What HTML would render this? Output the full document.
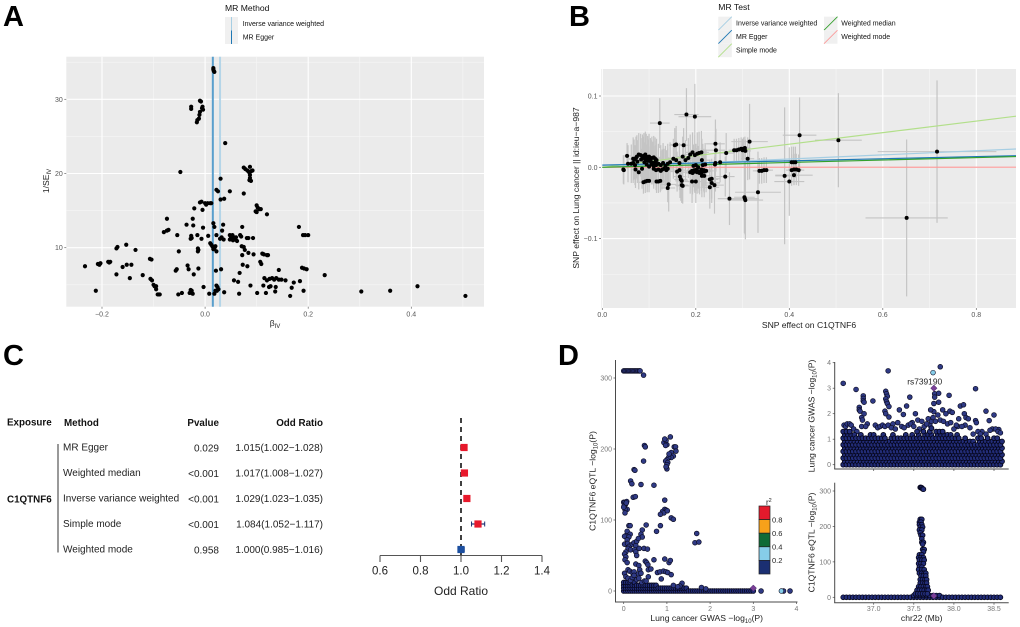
<!DOCTYPE html>
<html lang="en">
<head>
<meta charset="utf-8">
<title>C1QTNF6 Mendelian randomization figure</title>
<style>
html,body{margin:0;padding:0;background:#fff;width:1020px;height:627px;overflow:hidden}
svg{display:block;font-family:"Liberation Sans",sans-serif;filter:blur(0.3px)}
.panel-letter{font-size:29px;font-weight:700;fill:#000}
.legend-title{font-size:8.6px;fill:#111}
.legend-text{font-size:7px;fill:#111}
.axis-title{font-size:8.6px;fill:#222}
.table-text{font-size:10px;fill:#222}
.table-head{font-size:9.8px;font-weight:700;fill:#111}
</style>
</head>
<body>
<svg id="fig" width="1020" height="627" viewBox="0 0 1020 627" xmlns="http://www.w3.org/2000/svg">
  <defs>
    <clipPath id="clip-b"><rect x="601" y="69" width="415" height="239"/></clipPath>
  </defs>
  <rect width="1020" height="627" fill="#fff"/>

  <text class="panel-letter" x="3" y="26">A</text>
  <text class="panel-letter" x="569" y="26">B</text>
  <text class="panel-letter" x="3" y="365">C</text>
  <text class="panel-letter" x="558" y="365">D</text>

  <!-- Panel A -->
  <g>
    <text class="legend-title" x="225" y="11">MR Method</text>
    <rect x="225" y="17" width="13" height="13.5" fill="#f0f0f0"/>
    <rect x="225" y="30.5" width="13" height="13.5" fill="#f0f0f0"/>
    <line x1="231.5" x2="231.5" y1="17" y2="30.5" stroke="#a6cee3" stroke-width="1"/>
    <line x1="231.5" x2="231.5" y1="30.5" y2="44" stroke="#1f78b4" stroke-width="1"/>
    <text class="legend-text" x="242.7" y="26">Inverse variance weighted</text>
    <text class="legend-text" x="242.7" y="39.5">MR Egger</text>
  </g>
  <rect x="66.3" y="56.7" width="417.7" height="250" fill="#ebebeb"/>
  <g id="a-grid"></g>
  <g id="a-lines"></g>
  <g id="a-points"></g>
  <g id="a-axes"></g>
  <text class="axis-title" x="275" y="326" text-anchor="middle">β<tspan font-size="6" dy="2">IV</tspan></text>
  <text class="axis-title" transform="translate(49,181) rotate(-90)" text-anchor="middle">1/SE<tspan font-size="6" dy="2">IV</tspan></text>

  <!-- Panel B -->
  <g>
    <text class="legend-title" x="718.3" y="10">MR Test</text>
    <g id="b-legend"></g>
    <text class="legend-text" x="736" y="25.5">Inverse variance weighted</text>
    <text class="legend-text" x="736" y="39">MR Egger</text>
    <text class="legend-text" x="736" y="52.5">Simple mode</text>
    <text class="legend-text" x="841.3" y="25.5">Weighted median</text>
    <text class="legend-text" x="841.3" y="39">Weighted mode</text>
  </g>
  <rect x="601" y="69" width="415" height="239" fill="#ebebeb"/>
  <g id="b-grid"></g>
  <g id="b-errors"></g>
  <g id="b-lines" clip-path="url(#clip-b)"></g>
  <g id="b-points"></g>
  <g id="b-axes"></g>
  <text class="axis-title" x="809" y="328" text-anchor="middle">SNP effect on C1QTNF6</text>
  <text class="axis-title" transform="translate(579,188) rotate(-90)" text-anchor="middle">SNP effect on Lung cancer || id:ieu−a−987</text>

  <!-- Panel C table -->
  <g>
    <text class="table-head" x="7" y="425.5">Exposure</text>
    <text class="table-head" x="64" y="426">Method</text>
    <text class="table-head" x="219" y="426" text-anchor="end">Pvalue</text>
    <text class="table-head" x="323" y="426" text-anchor="end">Odd Ratio</text>
    <line x1="58" x2="58" y1="444" y2="552.5" stroke="#333" stroke-width="1"/>
    <text class="table-head" x="7" y="502.5">C1QTNF6</text>
    <text class="table-text" x="63" y="450.5">MR Egger</text>
    <text class="table-text" x="219" y="451.5" text-anchor="end">0.029</text>
    <text class="table-text" x="323" y="451" text-anchor="end">1.015(1.002−1.028)</text>
    <text class="table-text" x="63" y="476">Weighted median</text>
    <text class="table-text" x="219" y="477" text-anchor="end">&lt;0.001</text>
    <text class="table-text" x="323" y="476.5" text-anchor="end">1.017(1.008−1.027)</text>
    <text class="table-text" x="63" y="501.5">Inverse variance weighted</text>
    <text class="table-text" x="219" y="502.5" text-anchor="end">&lt;0.001</text>
    <text class="table-text" x="323" y="502" text-anchor="end">1.029(1.023−1.035)</text>
    <text class="table-text" x="63" y="527">Simple mode</text>
    <text class="table-text" x="219" y="528" text-anchor="end">&lt;0.001</text>
    <text class="table-text" x="323" y="527.5" text-anchor="end">1.084(1.052−1.117)</text>
    <text class="table-text" x="63" y="552.5">Weighted mode</text>
    <text class="table-text" x="219" y="553.5" text-anchor="end">0.958</text>
    <text class="table-text" x="323" y="553" text-anchor="end">1.000(0.985−1.016)</text>
  </g>
  <g id="c-forest"></g>
  <text x="461" y="595" text-anchor="middle" font-size="12" fill="#222">Odd Ratio</text>

  <!-- Panel D -->
  <g id="d-left"></g>
  <g id="d-top"></g>
  <g id="d-bottom"></g>
  <g id="d-axes"></g>
  <text x="924.7" y="384.5" text-anchor="middle" font-size="8.4" fill="#222">rs739190</text>
  <text class="axis-title" x="706.7" y="621" text-anchor="middle">Lung cancer GWAS −log<tspan font-size="6" dy="2">10</tspan><tspan dy="-2">(P)</tspan></text>
  <text class="axis-title" transform="translate(595.5,481) rotate(-90)" text-anchor="middle">C1QTNF6 eQTL −log<tspan font-size="6" dy="2">10</tspan><tspan dy="-2">(P)</tspan></text>
  <text class="axis-title" transform="translate(814.5,416) rotate(-90)" text-anchor="middle">Lung cancer GWAS −log<tspan font-size="6" dy="2">10</tspan><tspan dy="-2">(P)</tspan></text>
  <text class="axis-title" transform="translate(814.5,542.5) rotate(-90)" text-anchor="middle">C1QTNF6 eQTL −log<tspan font-size="6" dy="2">10</tspan><tspan dy="-2">(P)</tspan></text>
  <text class="axis-title" x="921.7" y="621" text-anchor="middle">chr22 (Mb)</text>
  <g id="d-legend"></g>
  <text x="766" y="505" font-size="8" fill="#222">r<tspan font-size="5.5" dy="-3">2</tspan></text>
</svg>

<script>
/* ---------- Panel A data ---------- */
const funnelXTicks = [-0.2, 0, 0.2, 0.4];
const funnelXTickLabels = ['−0.2', '0.0', '0.2', '0.4'];
const funnelXMinor = [-0.1, 0.1, 0.3, 0.5];
const funnelYTicks = [10, 20, 30];
const funnelYMinor = [5, 15, 25, 35];
const funnelEstimates = [0.015, 0.029];
const funnelPoints = [
[0.016,34.2],[0.016,34.0],[0.017,33.8],[0.018,33.7],
[-0.027,29.0],[-0.027,28.7],[-0.010,29.8],[-0.008,29.7],[-0.005,29.0],[-0.004,28.6],[-0.006,28.8],[-0.010,28.3],[-0.011,27.9],[-0.012,27.4],[-0.015,27.2],[-0.016,26.9],
[0.039,24.1],[-0.048,20.2],
[0.075,20.8],[0.078,20.6],[0.082,20.4],[0.085,20.2],[0.087,20.9],[0.089,20.3],[0.092,20.4],[0.087,19.8],[0.087,19.4],[0.086,19.1],[0.089,19.0],
[0.030,19.3],[0.022,17.8],[0.025,17.6],[0.048,17.6],[0.075,17.3],
[0.037,16.6],[0.030,16.5],[-0.010,16.1],[-0.007,16.2],[0.000,16.0],[0.002,15.8],[0.005,16.0],[0.010,16.0],[0.012,16.0],[-0.021,15.3],[-0.005,15.1],
[0.100,15.7],[0.102,15.4],[0.105,15.2],[0.108,15.2],[0.098,14.9],[0.100,14.8],[0.120,14.5],
[-0.074,13.9],[-0.024,13.9],[0.016,13.3],[0.035,13.1],[-0.036,13.1],[-0.023,13.0],[0.018,12.8],[0.072,12.8],[-0.004,12.7],[0.182,12.8],[0.033,12.3],
[-0.071,12.4],[-0.074,12.3],[-0.080,12.1],[-0.054,11.7],[-0.015,11.7],[-0.027,11.6],[-0.026,11.3],[-0.028,11.2],[-0.007,11.2],[0.006,11.6],[0.022,11.7],[0.029,11.2],[0.032,11.4],[0.036,11.1],
[0.048,11.7],[0.050,11.5],[0.052,11.3],[0.048,11.1],[0.053,11.7],[0.056,11.4],[0.058,11.1],[0.060,11.4],[0.062,10.9],[0.054,11.0],[0.068,11.7],[0.070,11.5],
[0.081,11.3],[0.084,11.3],[0.093,11.3],[0.190,11.7],[0.194,11.7],[0.200,11.7],
[0.010,10.6],[0.012,10.4],[0.014,10.2],[0.016,10.0],[0.016,9.8],[0.020,10.2],[0.018,9.9],[0.022,9.5],[-0.014,9.9],[-0.013,9.7],[-0.014,9.5],[-0.051,9.5],
[0.071,10.2],[0.075,10.1],[0.077,9.7],[0.084,9.3],[0.072,9.0],[0.094,9.1],[0.111,9.2],[0.114,9.1],[0.120,9.0],[0.122,9.0],
[-0.172,9.9],[-0.170,10.1],[-0.153,10.4],[-0.135,9.7],[-0.107,8.5],[-0.104,8.4],
[-0.233,7.5],[-0.208,7.8],[-0.205,7.7],[-0.203,7.9],[-0.188,8.1],[-0.186,8.0],[-0.184,8.1],[-0.160,7.4],[-0.152,7.7],[-0.143,7.7],
[-0.172,6.4],[-0.146,5.9],[-0.121,6.3],[-0.106,5.8],[-0.103,5.6],[-0.100,5.0],[-0.098,4.8],[-0.095,4.4],[-0.095,4.8],[-0.212,4.2],[-0.092,3.7],[-0.090,3.7],[-0.088,3.7],
[-0.057,6.9],[-0.055,7.1],[-0.034,7.6],[-0.032,7.1],[-0.013,7.2],[-0.022,6.4],[0.021,6.9],[0.031,7.1],[0.073,7.7],[0.082,7.5],[0.067,6.6],
[0.107,8.1],[0.109,7.8],[0.143,7.0],[0.188,7.3],[0.192,7.2],[0.197,7.1],[0.232,6.3],
[0.115,5.9],[0.120,5.6],[0.125,5.8],[0.130,5.9],[0.134,5.7],[0.138,5.9],[0.143,5.7],[0.148,5.7],[0.156,5.6],[0.172,5.3],[0.184,5.5],[0.056,5.6],[0.064,5.4],
[0.088,4.9],[0.113,4.9],[0.124,4.7],[0.127,4.8],[0.137,4.7],[0.168,4.6],[-0.003,4.7],[0.022,4.9],[0.024,4.7],[0.026,4.4],[0.023,4.2],[0.020,4.2],
[-0.028,4.3],[-0.026,4.2],[-0.030,3.9],[-0.024,3.8],[-0.045,3.9],[-0.052,3.7],[0.008,3.8],[0.018,3.8],[0.037,4.0],[0.066,3.8],[0.101,3.9],[0.118,3.9],[0.136,4.1],[0.165,3.5],[0.191,4.2],
[0.303,4.1],[0.359,4.2],[0.412,4.8],[0.505,3.5]
];

/* ---------- Panel B data ---------- */
const scatterXTicks = [0, 0.2, 0.4, 0.6, 0.8];
const scatterXTickLabels = ['0.0', '0.2', '0.4', '0.6', '0.8'];
const scatterXMinor = [0.1, 0.3, 0.5, 0.7];
const scatterYTicks = [0.1, 0, -0.1];
const scatterYTickLabels = ['0.1', '0.0', '−0.1'];
const scatterYMinor = [0.05, -0.05, -0.15];
const methodIntercepts = [0, 0.003, 0, 0, 0];
const methodSlopes = [0.029, 0.015, 0.081, 0.017, 0.0002];
/* SNP rows: exposure effect, outcome effect, exposure half-width, outcome half-width */
const snpEffects = [
[0.045,-0.003,0.004,0.02],[0.046,-0.004,0.004,0.02],[0.053,0.016,0.008,0.018],[0.055,0.005,0.008,0.026],[0.062,0.005,0.01,0.027],[0.066,0.006,0.01,0.028],[0.070,0.003,0.01,0.028],
[0.068,0.011,0.01,0.028],[0.072,0.013,0.01,0.03],[0.078,0.018,0.012,0.03],[0.075,0.008,0.012,0.03],[0.071,-0.003,0.01,0.026],[0.078,-0.007,0.01,0.024],[0.085,-0.002,0.012,0.028],
[0.083,0.011,0.012,0.03],[0.086,0.014,0.012,0.032],[0.089,0.016,0.012,0.032],[0.092,0.018,0.012,0.032],[0.094,0.015,0.012,0.032],[0.097,0.012,0.012,0.032],[0.100,0.015,0.012,0.032],
[0.103,0.011,0.012,0.03],[0.106,0.013,0.012,0.03],[0.110,0.014,0.014,0.03],[0.113,0.012,0.014,0.03],[0.116,0.010,0.014,0.03],[0.090,0.007,0.012,0.028],[0.095,0.004,0.012,0.028],
[0.100,0.001,0.012,0.028],[0.105,0.004,0.012,0.028],[0.110,0.002,0.012,0.028],[0.115,0.003,0.014,0.028],[0.120,0.005,0.014,0.028],[0.125,0.003,0.014,0.028],[0.130,0.006,0.014,0.028],
[0.135,0.002,0.014,0.028],[0.140,0.005,0.014,0.028],[0.145,0.007,0.014,0.028],[0.132,-0.002,0.014,0.028],[0.137,-0.004,0.014,0.028],
[0.088,-0.021,0.01,0.016],[0.092,-0.020,0.01,0.016],[0.096,-0.019,0.01,0.016],[0.100,-0.019,0.01,0.016],[0.116,-0.020,0.014,0.016],[0.120,-0.020,0.014,0.016],[0.124,-0.019,0.014,0.016],
[0.123,0.062,0.021,0.035],[0.140,-0.029,0.016,0.02],[0.142,-0.024,0.016,0.038],[0.155,0.031,0.012,0.024],[0.158,0.032,0.012,0.026],[0.174,0.031,0.012,0.024],[0.180,0.074,0.026,0.037],[0.198,0.071,0.035,0.046],
[0.152,0.012,0.012,0.028],[0.158,0.010,0.014,0.028],[0.165,0.006,0.014,0.028],[0.172,0.015,0.014,0.028],[0.178,0.010,0.014,0.028],[0.184,0.013,0.014,0.028],[0.188,0.018,0.014,0.028],[0.193,0.021,0.014,0.028],[0.198,0.017,0.014,0.028],
[0.203,0.019,0.016,0.03],[0.207,0.020,0.016,0.03],[0.212,0.021,0.016,0.03],[0.213,0.010,0.016,0.03],[0.160,-0.006,0.014,0.028],[0.165,-0.004,0.014,0.028],
[0.166,-0.013,0.014,0.03],[0.168,-0.017,0.014,0.03],[0.170,-0.019,0.014,0.03],[0.170,-0.025,0.014,0.025],[0.172,-0.026,0.014,0.025],
[0.192,-0.020,0.016,0.03],[0.200,-0.020,0.016,0.03],[0.192,-0.005,0.016,0.03],[0.197,-0.004,0.016,0.03],[0.202,-0.003,0.016,0.03],[0.207,-0.006,0.016,0.03],[0.212,-0.003,0.016,0.03],[0.217,-0.004,0.016,0.03],
[0.195,0.002,0.016,0.03],[0.200,0.003,0.016,0.03],[0.205,0.000,0.016,0.03],[0.215,0.003,0.016,0.03],[0.220,0.004,0.016,0.03],
[0.188,-0.007,0.016,0.03],[0.193,-0.008,0.016,0.03],[0.198,-0.006,0.016,0.03],[0.203,-0.007,0.016,0.03],[0.208,-0.008,0.016,0.03],[0.213,-0.007,0.016,0.03],[0.218,-0.006,0.016,0.03],[0.222,-0.005,0.016,0.03],
[0.066,0.012,0.01,0.03],[0.074,0.015,0.01,0.03],[0.082,0.017,0.012,0.03],[0.088,0.013,0.012,0.03],[0.093,0.010,0.012,0.03],[0.098,0.009,0.012,0.03],[0.104,0.008,0.012,0.03],[0.108,0.006,0.012,0.03],[0.113,0.007,0.014,0.03],
[0.110,-0.002,0.014,0.028],[0.115,-0.004,0.014,0.028],[0.120,-0.003,0.014,0.028],[0.125,-0.005,0.014,0.028],[0.128,-0.003,0.014,0.028],[0.140,-0.002,0.014,0.028],
[0.213,-0.012,0.016,0.03],[0.218,-0.012,0.016,0.03],[0.230,-0.017,0.018,0.028],[0.234,-0.016,0.018,0.028],[0.234,-0.022,0.018,0.028],[0.230,-0.028,0.02,0.03],[0.240,-0.025,0.02,0.04],
[0.241,0.004,0.018,0.03],[0.242,0.006,0.018,0.04],[0.242,0.033,0.02,0.034],[0.243,0.024,0.02,0.03],[0.252,0.007,0.02,0.028],[0.265,0.020,0.018,0.028],[0.263,-0.013,0.02,0.028],
[0.272,-0.044,0.025,0.037],[0.282,0.024,0.012,0.016],[0.287,0.024,0.012,0.016],[0.292,0.025,0.012,0.016],[0.297,0.026,0.012,0.016],[0.302,0.026,0.012,0.016],[0.305,0.027,0.012,0.016],[0.300,0.024,0.012,0.016],[0.306,0.023,0.012,0.016],
[0.304,-0.042,0.022,0.05],[0.305,-0.044,0.03,0.05],[0.306,-0.046,0.038,0.055],[0.311,0.012,0.014,0.03],[0.315,0.036,0.039,0.053],[0.333,-0.035,0.049,0.057],
[0.336,-0.005,0.014,0.018],[0.341,-0.005,0.014,0.018],[0.346,-0.004,0.014,0.018],[0.351,-0.004,0.014,0.018],
[0.390,-0.012,0.02,0.096],[0.400,-0.020,0.032,0.048],[0.405,0.007,0.012,0.022],[0.409,0.007,0.012,0.022],[0.413,0.007,0.012,0.022],[0.405,-0.004,0.012,0.022],[0.410,-0.003,0.012,0.022],[0.415,-0.003,0.012,0.022],[0.410,-0.011,0.04,0.014],[0.420,-0.004,0.012,0.022],[0.422,0.045,0.036,0.053],
[0.505,0.038,0.05,0.066],[0.716,0.022,0.127,0.1],[0.651,-0.071,0.088,0.11]
];

/* ---------- Panel C data ---------- */
const forestTicks = [0.6, 0.8, 1.0, 1.2, 1.4];
const forestTickLabels = ['0.6', '0.8', '1.0', '1.2', '1.4'];
const forestOdds = [1.015, 1.017, 1.029, 1.084, 1.000];
const forestLower = [1.002, 1.008, 1.023, 1.052, 0.985];
const forestUpper = [1.028, 1.027, 1.035, 1.117, 1.016];

/* ---------- Panel D data ---------- */
const colocXTicks = [0, 1, 2, 3, 4];
const colocYTicks = [0, 100, 200, 300];
const colocPoints = [
[0,310],[0.03,310],[0.06,310],[0.09,310],[0.12,310],[0.15,310],[0.18,310],[0.21,310],[0.24,310],[0.27,310],[0.3,310],[0.33,310],[0.36,310],[0.38,310],[0.46,304],
[0.48,205],[0.5,203],[0.46,183],[0.24,171],[0.26,170],[0.16,155],[0.19,151],[0.4,150],[0.7,149],[0.22,132],[0.27,133],
[0.95,128],[0,125],[0.03,125],[0.07,126],[0.04,122],[0.01,120],[0.08,115],[0.03,115],[0.03,110],[0.06,124],[0.0,118],
[0.95,115],[0.98,114],[0.9,112],[0.93,110],[0.85,108],[1.01,113],[1.1,103],[1.15,101],[0.85,92],[0.12,92],[0.15,92],[0.52,93],[0.76,84],[0.43,86],
[0.93,209],[0.98,212],[0.95,214],[1.0,206],[0.97,205],[1.08,217],[1.17,203],[1.2,203],[1.21,197],[1.1,195],[1.15,190],[1.1,188],[1.04,188],[1.0,185],[0.97,183],[1.02,181],[1.0,178],[1.0,172],[0.98,175],[1.05,193],
[1.69,81],[1.65,68],[1.74,69],
[0.05,78],[0.02,77],[0.08,84],[0.15,80],[0.12,76],[0.4,80],[0.43,76],[0.47,60],[0.55,59],[0.08,72],[0.04,66],[0.02,66],[0.09,67],[0.13,63],[0.1,60],[0.16,58],[0.2,66],[0.24,68],[0.28,64],[0.3,70],[0.34,74],[0.25,58],[0.28,55],[0.3,50],[0.36,60],
[0.05,55],[0.02,52],[0.05,48],[0.03,44],[0.08,40],[0.1,30],[0.14,28],[0.2,26],[0.24,27],[0.28,38],[0.35,36],[0.37,30],[0.34,24],[0.4,25],[0.5,42],[0.53,40],[0.56,37],[0.57,30],[0.63,31],[0.7,44],[0.95,45],[1.05,40],[1.08,43],[0.78,26],[0.84,27],[0.92,28],[0.98,27],[1.02,26],[1.1,23],[0.87,17],
[0.02,25],[0.05,20],[0.1,18],[0.16,15],[0.2,19],[0.24,22],[0.3,16],[0.35,18],[0.42,12],[0.48,14],[0.57,20],[0.52,14],[1.35,11],[1.15,8],[1.3,7],[1.8,5],[1.9,3],[1.25,6]
];
/* Height of the packed low-significance band, per 0.05 step of GWAS value */
const colocBandTops = [14,12,12,13,11,12,10,11,10,10,9,10,8,8,8,8,7,7,6,6,6,5,5,5,5,5,4,4,4,4,3,3,3,3,2,2,2,2,2,2,2,2,1,1,1,1,1,1,1,1,1,1,1,1,1,1,1,0,0,0,0];
const colocOutliers = [[3.18,0],[3.7,0],[3.85,0]];
const colocLightPoint = [3.65,0];
const colocLead = [3.0,4];

const gwasXTicks = [37, 37.5, 38, 38.5];
const gwasYTicks = [0, 1, 2, 3, 4];
/* Top of the dense GWAS band, per 0.04 Mb starting at 36.62 Mb */
const gwasBandTops = [1.4,1.35,1.3,1.2,1.1,1.25,1.05,1.1,1.2,1.25,1.05,1.15,1.25,1.1,1.0,1.2,1.1,1.15,1.05,1.25,1.15,1.2,1.1,1.3,1.15,1.35,1.25,1.45,1.1,1.3,1.35,1.4,1.25,1.2,1.1,1.2,1.1,0.95,1.05,0.95,1.0,0.9,1.05,1.1,0.95,1.05,0.95,1.1,1.05,1.0];
const gwasPoints = [
[37.18,3.68],[37.83,3.84],[36.62,3.19],[36.78,2.95],[38.27,2.98],
[36.87,2.7],[36.87,2.6],[36.87,2.5],[36.88,2.45],[36.99,2.5],[37.15,2.88],[37.16,2.78],[37.17,2.68],[37.15,2.58],[37.16,2.48],[37.17,2.4],[37.19,2.28],[37.14,2.1],[37.15,2.0],[37.19,1.87],
[36.82,2.25],[36.82,2.15],[36.83,2.1],[36.85,1.85],[36.88,2.0],[36.86,1.75],[36.92,1.6],
[37.45,2.65],[37.76,2.78],[37.76,2.65],[37.81,2.8],[37.94,2.72],[37.75,2.4],[37.81,2.45],[37.75,2.08],[37.71,2.15],[37.8,1.95],[37.86,2.15],[37.9,2.0],[37.95,2.1],[37.98,2.05],
[37.32,2.15],[37.41,2.3],[37.37,1.97],[37.52,2.0],[37.24,1.6],[37.3,1.65],[37.48,1.65],[37.55,1.75],[37.6,1.7],[37.68,1.8],[37.7,1.55],
[38.06,1.8],[38.08,2.3],[38.12,2.35],[38.13,2.0],[38.15,1.85],[38.18,1.8],[38.14,1.55],[38.4,2.1],[38.5,1.95],[38.44,1.73],[38.27,1.73],[38.28,1.65],[38.05,1.5],[38.35,1.3],[38.48,1.4],[38.56,1.38],
[36.63,1.55],[36.65,1.5],[36.67,1.6],[36.7,1.6],[36.72,1.55],[36.75,1.4],[36.79,1.3],[36.85,1.5],[36.9,1.5],[37.02,1.55],[37.05,1.45],[37.08,1.5],[37.11,1.55],[37.14,1.5],[37.18,1.55],[37.22,1.45],[37.27,1.4],
[37.35,1.5],[37.38,1.45],[37.43,1.55],[37.46,1.6],[37.5,1.5],[37.57,1.4],[37.63,1.5],[37.66,1.6],[37.72,1.7],[37.74,1.85],[37.77,1.7],[37.83,1.75],[37.87,1.7],[37.92,1.6],[37.96,1.65],
[38.0,1.4],[38.03,1.55],[38.1,1.5],[38.2,1.45],[38.24,1.2],[38.3,1.3],[38.33,1.2],[38.4,1.2],[38.45,1.35],[38.52,1.4],[38.55,1.3],[38.58,1.25]
];
const gwasLight = [37.74,3.61];
const gwasLead = [37.75,3.0];

const eqtlYTicks = [0, 100, 200, 300];
const eqtlXLabels = ['37.0', '37.5', '38.0', '38.5'];
/* Top of the flat eQTL band, per 0.04 Mb starting at 36.62 Mb */
const eqtlBandTops = [3,3,3,3,3,3,3,3,3,3,3,3,3,3,3,3,4,4,4,4,4,4,5,6,7,9,10,8,6,5,5,4,4,4,4,4,3,3,3,3,3,3,3,3,3,3,3,3,3,3];
const eqtlPoints = [
[37.58,310],[37.59,310],[37.6,309],[37.61,306],[37.62,305],
[37.58,220],[37.6,220],[37.57,212],[37.59,212],[37.57,205],[37.6,205],[37.58,198],[37.61,198],[37.57,190],[37.6,190],[37.58,182],[37.59,175],[37.61,175],[37.6,165],[37.6,155],[37.62,155],[37.61,150],[37.61,135],[37.63,135],[37.62,128],
[37.57,120],[37.6,120],[37.56,112],[37.59,112],[37.62,112],[37.57,105],[37.6,105],[37.63,105],[37.56,95],[37.59,95],[37.62,95],[37.57,85],[37.6,85],[37.56,78],[37.6,78],[37.63,78],
[37.57,68],[37.6,68],[37.63,68],[37.65,68],[37.59,60],[37.62,60],[37.65,60],[37.58,50],[37.61,50],[37.64,50],[37.66,50],[37.58,40],[37.61,40],[37.64,40],[37.66,40],
[37.56,30],[37.59,30],[37.62,30],[37.65,30],[37.67,30],[37.54,20],[37.57,20],[37.6,20],[37.63,20],[37.66,20],[37.68,20],[37.52,10],[37.55,10],[37.58,10],[37.61,10],[37.64,10],[37.67,10]
];
const eqtlLead = [37.75,4];

const r2Levels = ['#e41a2c', '#f7a11a', '#0f6b37', '#86cde9', '#1b2f72'];
const r2TickLabels = ['0.8', '0.6', '0.4', '0.2'];

/* ---------- Helpers ---------- */
const NS = 'http://www.w3.org/2000/svg';
const linear = (d0, d1, r0, r1) => v => r0 + (v - d0) * (r1 - r0) / (d1 - d0);
function make(parentId, tag, attrs, text) {
  const el = document.createElementNS(NS, tag);
  for (const k in attrs) el.setAttribute(k, attrs[k]);
  if (text !== undefined) el.textContent = text;
  document.getElementById(parentId).appendChild(el);
  return el;
}
function line(parent, name, x1, y1, x2, y2, stroke, width, extra) {
  const el = make(parent, 'line', Object.assign({x1, y1, x2, y2, stroke, 'stroke-width': width}, extra || {}));
  
  
  return el;
}
function label(parent, name, x, y, str, anchor, size, fill) {
  const el = make(parent, 'text', {x, y, 'text-anchor': anchor, 'font-size': size, fill}, str);
  
  
  return el;
}
function dot(parent, name, cx, cy, r, fill, stroke, sw) {
  const el = make(parent, 'circle', {cx, cy, r, fill, stroke: stroke || 'none', 'stroke-width': sw || 0});
  
  
  return el;
}
function diamond(parent, name, cx, cy, s) {
  const el = make(parent, 'polygon', {points: `${cx},${cy - s} ${cx + s},${cy} ${cx},${cy + s} ${cx - s},${cy}`, fill: '#7b3f98', stroke: '#3a2260', 'stroke-width': 0.5});
  
  
  return el;
}
const TICK = '#666666';
const DOT_FILL = '#2f3a85';
const DOT_EDGE = '#0c0c22';
const BAND_FILL = '#222d78';
const BAND_EDGE = '#05051a';

/* ---------- Panel A ---------- */
const ax = linear(0, 0.4, 205.1, 411.3);
const ay = linear(10, 30, 247.7, 99.3);
const aLeft = 66.3, aRight = 484, aTop = 56.7, aBottom = 306.7;
funnelXMinor.forEach(v => line('a-grid', 'funnel-minor-gridline-x', ax(v), aTop, ax(v), aBottom, '#f7f7f7', 0.6));
funnelYMinor.forEach(v => line('a-grid', 'funnel-minor-gridline-y', aLeft, ay(v), aRight, ay(v), '#f7f7f7', 0.6));
funnelXTicks.forEach((v, i) => {
  line('a-grid', 'funnel-gridline-x', ax(v), aTop, ax(v), aBottom, '#fff', 1.1);
  line('a-axes', 'funnel-x-tick', ax(v), aBottom, ax(v), aBottom + 2, TICK, 0.7);
  label('a-axes', 'funnel-x-tick-label', ax(v), 316.5, funnelXTickLabels[i], 'middle', 7, '#555');
});
funnelYTicks.forEach(v => {
  line('a-grid', 'funnel-gridline-y', aLeft, ay(v), aRight, ay(v), '#fff', 1.1);
  line('a-axes', 'funnel-y-tick', aLeft - 2, ay(v), aLeft, ay(v), TICK, 0.7);
  label('a-axes', 'funnel-y-tick-label', aLeft - 3.5, ay(v) + 2.5, String(v), 'end', 7, '#555');
});
line('a-lines', 'funnel-line-ivw', ax(funnelEstimates[1]), aTop, ax(funnelEstimates[1]), aBottom, '#b4d5e8', 2);
line('a-lines', 'funnel-line-egger', ax(funnelEstimates[0]), aTop, ax(funnelEstimates[0]), aBottom, '#5a9fcd', 2);
funnelPoints.forEach(p => dot('a-points', 'funnel-point', ax(p[0]), ay(p[1]), 2.1, '#000'));

/* ---------- Panel B ---------- */
const bx = linear(0, 0.8, 602.3, 976.3);
const by = linear(0, 0.1, 167.3, 96);
const bLeft = 601, bRight = 1016, bTop = 69, bBottom = 308;
scatterXMinor.forEach(v => line('b-grid', 'scatter-minor-gridline-x', bx(v), bTop, bx(v), bBottom, '#f7f7f7', 0.6));
scatterYMinor.forEach(v => line('b-grid', 'scatter-minor-gridline-y', bLeft, by(v), bRight, by(v), '#f7f7f7', 0.6));
scatterXTicks.forEach((v, i) => {
  line('b-grid', 'scatter-gridline-x', bx(v), bTop, bx(v), bBottom, '#fff', 1.1);
  line('b-axes', 'scatter-x-tick', bx(v), bBottom, bx(v), bBottom + 2, TICK, 0.7);
  label('b-axes', 'scatter-x-tick-label', bx(v), 317, scatterXTickLabels[i], 'middle', 7, '#555');
});
scatterYTicks.forEach((v, i) => {
  line('b-grid', 'scatter-gridline-y', bLeft, by(v), bRight, by(v), '#fff', 1.1);
  line('b-axes', 'scatter-y-tick', bLeft - 2, by(v), bLeft, by(v), TICK, 0.7);
  label('b-axes', 'scatter-y-tick-label', bLeft - 3.5, by(v) + 2.5, scatterYTickLabels[i], 'end', 7, '#555');
});
snpEffects.forEach(s => {
  line('b-errors', 'snp-error-x', bx(s[0] - s[2]), by(s[1]), bx(s[0] + s[2]), by(s[1]), '#c4c4c4', 1.1);
  line('b-errors', 'snp-error-y', bx(s[0]), by(s[1] - s[3]), bx(s[0]), by(s[1] + s[3]), '#c4c4c4', 1.2);
});
const methodColors = ['#a6cee3', '#1f78b4', '#b2df8a', '#33a02c', '#fb9a99'];
const methodNames = ['ivw', 'egger', 'simple-mode', 'weighted-median', 'weighted-mode'];
[4, 0, 2, 1, 3].forEach(i => {
  const xMax = 0.9;
  line('b-lines', 'scatter-line-' + methodNames[i], bx(0), by(methodIntercepts[i]), bx(xMax), by(methodIntercepts[i] + methodSlopes[i] * xMax), methodColors[i], 1.2);
});
snpEffects.forEach(s => dot('b-points', 'snp-point', bx(s[0]), by(s[1]), 2, '#000'));
[[718.3, 16.7, 0], [718.3, 30.2, 1], [718.3, 43.7, 2], [824, 16.7, 3], [824, 30.2, 4]].forEach(k => {
  const key = make('b-legend', 'rect', {x: k[0], y: k[1], width: 13.5, height: 13.5, fill: '#f0f0f0'});
  
  
  line('b-legend', 'scatter-legend-key-line', k[0], k[1] + 13.5, k[0] + 13.5, k[1], methodColors[k[2]], 0.9);
});

/* ---------- Panel C forest ---------- */
const fx = linear(0.6, 1.4, 380, 542);
const rowY = [447.5, 473, 498.5, 524, 549.5];
const forestColors = ['#e8192c', '#e8192c', '#e8192c', '#e8192c', '#1c4fa0'];
line('c-forest', 'forest-reference-line', fx(1), 418, fx(1), 555, '#111', 1.6, {'stroke-dasharray': '5 4'});
line('c-forest', 'forest-axis-line', fx(0.6), 555.5, fx(1.4), 555.5, '#555', 1.1);
forestTicks.forEach((v, i) => {
  line('c-forest', 'forest-x-tick', fx(v), 555.5, fx(v), 562, '#555', 1.1);
  label('c-forest', 'forest-x-tick-label', fx(v), 574.5, forestTickLabels[i], 'middle', 11.5, '#222');
});
forestOdds.forEach((v, i) => {
  line('c-forest', 'forest-ci-line', fx(forestLower[i]), rowY[i], fx(forestUpper[i]), rowY[i], '#1b2f72', 1.2);
  line('c-forest', 'forest-ci-cap-low', fx(forestLower[i]), rowY[i] - 2.5, fx(forestLower[i]), rowY[i] + 2.5, '#1b2f72', 1);
  line('c-forest', 'forest-ci-cap-high', fx(forestUpper[i]), rowY[i] - 2.5, fx(forestUpper[i]), rowY[i] + 2.5, '#1b2f72', 1);
  const box = make('c-forest', 'rect', {x: fx(v) - 3.6, y: rowY[i] - 3.6, width: 7.2, height: 7.2, fill: forestColors[i]});
  
  
});

/* ---------- Panel D left ---------- */
const cx = linear(0, 4, 623.7, 796.5);
const cy = linear(0, 300, 591, 378);
const R = 2.4;
colocBandTops.forEach((top, i) => {
  const x = i * 0.05;
  for (let y = 0; y <= top; y += 4) {
    dot('d-left', 'coloc-band-point', cx(x), cy(y), R, BAND_FILL, BAND_EDGE, 0.8);
  }
});
colocPoints.forEach(p => dot('d-left', 'coloc-point', cx(p[0]), cy(p[1]), R, DOT_FILL, DOT_EDGE, 0.7));
colocOutliers.forEach(p => dot('d-left', 'coloc-outlier-point', cx(p[0]), cy(p[1]), R, DOT_FILL, DOT_EDGE, 0.7));
dot('d-left', 'coloc-light-point', cx(colocLightPoint[0]), cy(colocLightPoint[1]), R, '#86cde9', DOT_EDGE, 0.6);
diamond('d-left', 'coloc-lead-snp', cx(colocLead[0]), cy(colocLead[1]), 3.2);

/* ---------- Panel D top right ---------- */
const gx = linear(37, 38.5, 873.7, 994);
const gy = linear(0, 4, 464.7, 362.7);
const oy = linear(0, 300, 597.3, 491);
gwasPoints.forEach(p => dot('d-top', 'gwas-point', gx(p[0]), gy(p[1]), R, DOT_FILL, DOT_EDGE, 0.7));
gwasBandTops.forEach((top, i) => {
  const x = 36.62 + i * 0.04;
  let row = 0;
  for (let y = 0; y <= top; y += 0.13) {
    dot('d-top', 'gwas-band-point', gx(x + (row % 2) * 0.02), gy(y), R, BAND_FILL, BAND_EDGE, 0.9);
    row += 1;
  }
});
dot('d-top', 'gwas-light-point', gx(gwasLight[0]), gy(gwasLight[1]), R, '#86cde9', DOT_EDGE, 0.6);
diamond('d-top', 'gwas-lead-snp', gx(gwasLead[0]), gy(gwasLead[1]), 3.2);

/* ---------- Panel D bottom right ---------- */
eqtlBandTops.forEach((top, i) => {
  const x = 36.62 + i * 0.04;
  for (let y = 0; y <= top; y += 5) {
    dot('d-bottom', 'eqtl-band-point', gx(x), oy(y), R, BAND_FILL, BAND_EDGE, 0.8);
  }
});
eqtlPoints.forEach(p => dot('d-bottom', 'eqtl-point', gx(p[0]), oy(p[1]), R, BAND_FILL, BAND_EDGE, 0.8));
diamond('d-bottom', 'eqtl-lead-snp', gx(eqtlLead[0]), oy(eqtlLead[1]), 3.2);

/* ---------- Panel D axes ---------- */
const AX = '#4a4a4a';
line('d-axes', 'coloc-y-axis-line', 615.5, 360, 615.5, 602, AX, 1);
line('d-axes', 'coloc-x-axis-line', 615, 602, 797.5, 602, AX, 1);
colocXTicks.forEach(v => {
  line('d-axes', 'coloc-x-tick', cx(v), 602, cx(v), 604, AX, 0.7);
  label('d-axes', 'coloc-x-tick-label', cx(v), 611, String(v), 'middle', 7, '#777');
});
colocYTicks.forEach(v => {
  line('d-axes', 'coloc-y-tick', 613.5, cy(v), 615.5, cy(v), AX, 0.7);
  label('d-axes', 'coloc-y-tick-label', 612, cy(v) + 2.5, String(v), 'end', 7, '#777');
});
line('d-axes', 'gwas-y-axis-line', 834.7, 362, 834.7, 469, AX, 1);
line('d-axes', 'gwas-x-axis-line', 834.2, 469, 1008.7, 469, AX, 1);
gwasXTicks.forEach(v => line('d-axes', 'gwas-x-tick', gx(v), 469, gx(v), 471, AX, 0.7));
gwasYTicks.forEach(v => {
  line('d-axes', 'gwas-y-tick', 832.7, gy(v), 834.7, gy(v), AX, 0.7);
  label('d-axes', 'gwas-y-tick-label', 831, gy(v) + 2.5, String(v), 'end', 7, '#777');
});
line('d-axes', 'eqtl-y-axis-line', 834.7, 482.7, 834.7, 602.7, AX, 1);
line('d-axes', 'eqtl-x-axis-line', 834.2, 602.7, 1008.7, 602.7, AX, 1);
gwasXTicks.forEach((v, i) => {
  line('d-axes', 'eqtl-x-tick', gx(v), 602.7, gx(v), 604.7, AX, 0.7);
  label('d-axes', 'eqtl-x-tick-label', gx(v), 611, eqtlXLabels[i], 'middle', 7, '#777');
});
eqtlYTicks.forEach(v => {
  line('d-axes', 'eqtl-y-tick', 832.7, oy(v), 834.7, oy(v), AX, 0.7);
  label('d-axes', 'eqtl-y-tick-label', 831, oy(v) + 2.5, String(v), 'end', 7, '#777');
});

/* ---------- r2 legend ---------- */
r2Levels.forEach((c, i) => {
  const box = make('d-legend', 'rect', {x: 759, y: 506 + i * 13.6, width: 11, height: 13.6, fill: c, stroke: '#222', 'stroke-width': 0.7});
  
  
});
r2TickLabels.forEach((t, i) => {
  label('d-legend', 'r2-legend-label', 772, 522.5 + i * 13.5, t, 'start', 7.5, '#222');
});
</script>
</body>
</html>
